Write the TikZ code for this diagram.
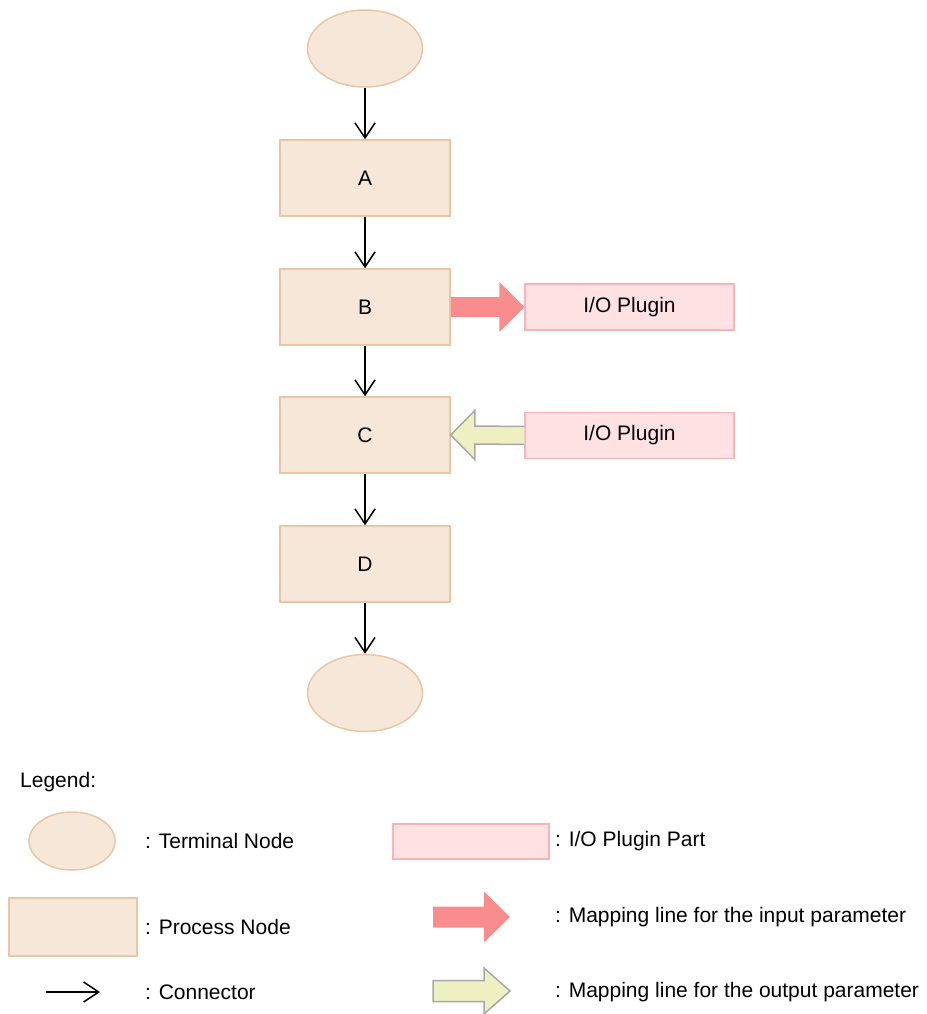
\documentclass[tikz,border=0pt]{standalone}
\usepackage{fontspec}
\setmainfont{Liberation Sans}
\usetikzlibrary{arrows.meta,calc,shapes.geometric}

\definecolor{nodefill}{HTML}{F7E7D8}
\definecolor{nodeline}{HTML}{E9C6A4}
\definecolor{plugfill}{HTML}{FFE1E4}
\definecolor{plugline}{HTML}{FAB4B8}
\definecolor{inred}{HTML}{F98D8D}
\definecolor{outyellow}{HTML}{EFF0C2}
\definecolor{mapgray}{HTML}{A8A8A8}

\begin{document}
\begin{tikzpicture}[x=1pt,y=-1pt,
  font=\fontsize{21}{25}\selectfont,
  terminal/.style={ellipse, draw=nodeline, fill=nodefill, line width=1.5pt,
    minimum width=115pt, minimum height=77pt, inner sep=0pt},
  process/.style={rectangle, draw=nodeline, fill=nodefill, line width=1.5pt,
    minimum width=170pt, minimum height=76pt},
  plugin/.style={rectangle, draw=plugline, fill=plugfill, line width=1.5pt,
    minimum width=209pt, minimum height=46pt},
  conn/.style={line width=1.5pt,
    -{Straight Barb[length=15pt,width=20pt]}},
  inmap/.style={fill=inred, draw=none},
  outmap/.style={fill=outyellow, draw=mapgray, line width=1.5pt, line join=miter},
  legtext/.style={anchor=west, inner sep=0pt}]

\useasboundingbox (0,0) rectangle (926,1014);

% ---- flow ----
\node[terminal] (start) at (365,48.5) {};
\node[process]  (A) at (365,178) {A};
\node[process]  (B) at (365,307) {B};
\node[process]  (C) at (365,435) {C};
\node[process]  (D) at (365,564) {D};
\node[terminal] (stop) at (365,693) {};

\draw[conn] (start) -- (A);
\draw[conn] (A) -- (B);
\draw[conn] (B) -- (C);
\draw[conn] (C) -- (D);
\draw[conn] (D) -- (stop);

% ---- I/O plugins and mapping arrows ----
\node[plugin] (P1) at (629.5,307) {I/O Plugin};
\node[plugin] (P2) at (629.5,435.5) {I/O Plugin};

% input parameter: B -> plugin
\fill[inmap] ($(B.east)+(0,-10)$) -- ($(P1.west)+(-25,-10)$)
  -- ($(P1.west)+(-25,-25)$) -- (P1.west) -- ($(P1.west)+(-25,25)$)
  -- ($(P1.west)+(-25,10)$) -- ($(B.east)+(0,10)$) -- cycle;

% output parameter: plugin -> C
\draw[outmap] ($(P2.west)+(0,-9)$) -- ($(C.east)+(24,-9)$)
  -- ($(C.east)+(24,-24.5)$) -- (C.east) -- ($(C.east)+(24,24.5)$)
  -- ($(C.east)+(24,9)$) -- ($(P2.west)+(0,9)$);

% ---- legend ----
\node[legtext] (legtitle) at (20,782) {Legend:};

\node[terminal, minimum width=86pt, minimum height=58pt] (lterm) at (72,841) {};
\node[legtext] (ltermtxt) at (145,841) {: Terminal Node};

\node[process, minimum width=128pt, minimum height=58pt] (lproc) at (73,927) {};
\node[legtext] (lproctxt) at (145,927) {: Process Node};

\coordinate (lc1) at (46,992);
\coordinate (lc2) at (100,992);
\draw[conn] (lc1) -- (lc2);
\node[legtext] (lconntxt) at (145,992) {: Connector};

\node[plugin, minimum width=156pt, minimum height=35pt] (lplug) at (471,841.5) {};
\node[legtext] (lplugtxt) at (555,841) {: I/O Plugin Part};

\coordinate (li1) at (433,917);
\coordinate (li2) at (510,917);
\fill[inmap] ($(li1)+(0,-10.5)$) -- ($(li2)+(-26,-10.5)$)
  -- ($(li2)+(-26,-25.5)$) -- (li2) -- ($(li2)+(-26,25.5)$)
  -- ($(li2)+(-26,10.5)$) -- ($(li1)+(0,10.5)$) -- cycle;
\node[legtext] (lintxt) at (555,917) {: Mapping line for the input parameter};

\coordinate (lo1) at (433,991);
\coordinate (lo2) at (510,991);
\draw[outmap] ($(lo1)+(0,-10.5)$) -- ($(lo2)+(-26,-10.5)$)
  -- ($(lo2)+(-26,-23)$) -- (lo2) -- ($(lo2)+(-26,23)$)
  -- ($(lo2)+(-26,10.5)$) -- ($(lo1)+(0,10.5)$) -- cycle;
\node[legtext] (louttxt) at (555,992) {: Mapping line for the output parameter};

\end{tikzpicture}
\end{document}
